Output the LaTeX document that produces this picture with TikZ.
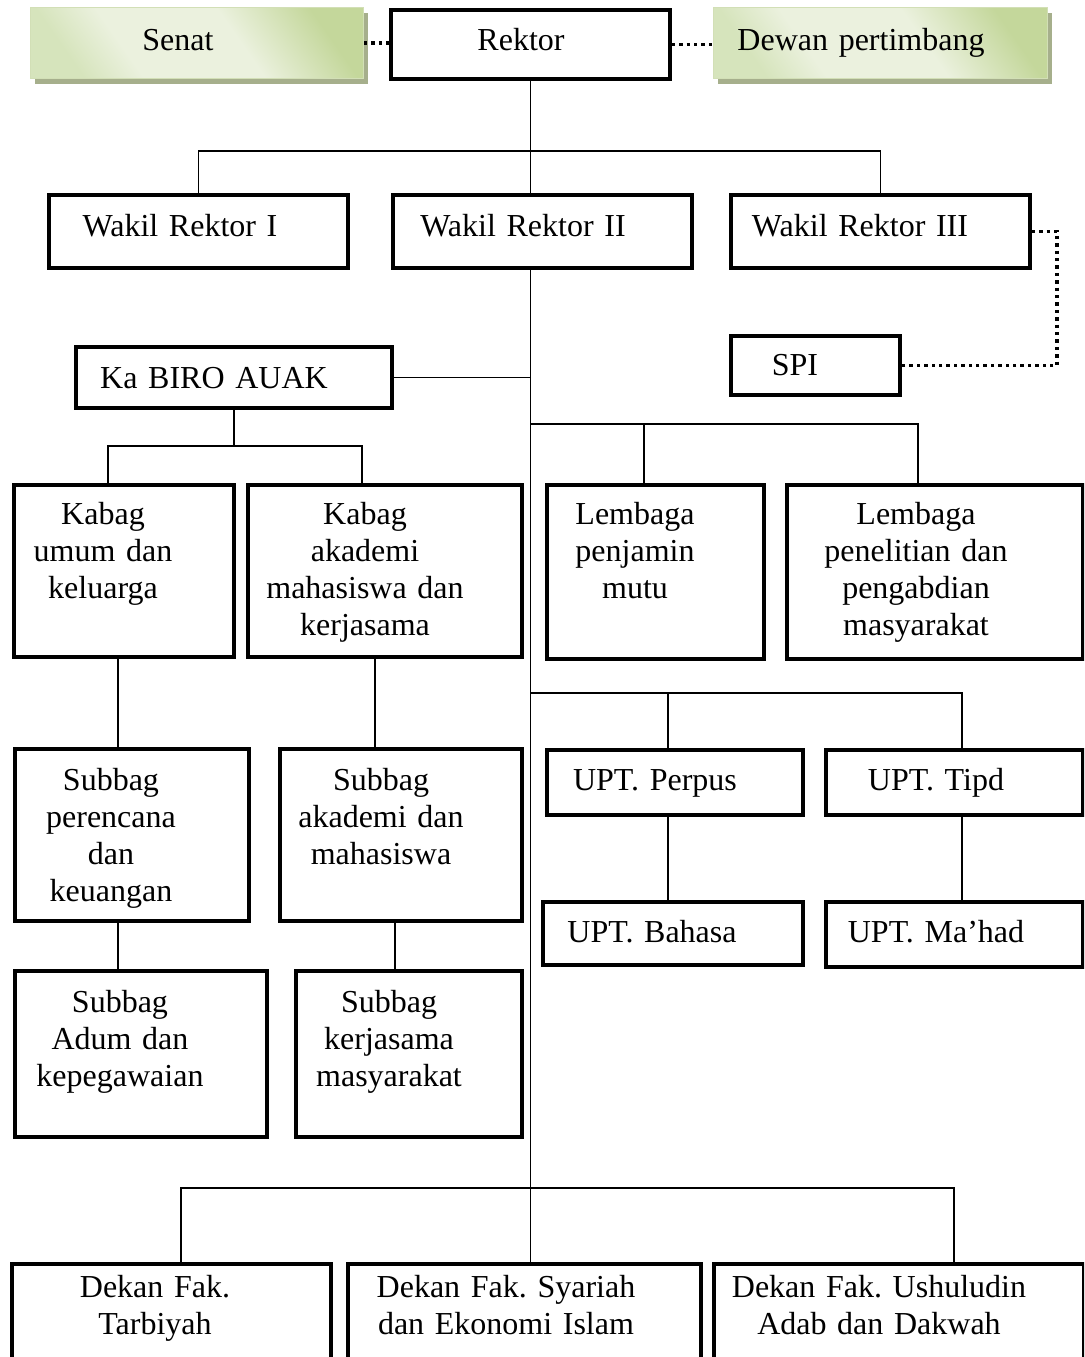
\documentclass[tikz,border=0pt]{standalone}
\usepackage{fontspec}
\setmainfont{Liberation Serif}
\usetikzlibrary{shadows}

\definecolor{gdark}{HTML}{C4D79B}
\definecolor{gmid}{HTML}{D6E4BC}
\definecolor{glight}{HTML}{EBF1DE}
\definecolor{gedge}{HTML}{D2DFB6}
\definecolor{gshadow}{HTML}{A6AF8C}

% soft green fill of the two advisory boxes
\pgfdeclarehorizontalshading{greenfill}{100bp}{%
  color(0bp)=(gmid); color(25bp)=(gmid); color(36bp)=(glight);
  color(58bp)=(glight); color(75bp)=(gdark); color(100bp)=(gdark)}

\tikzset{
  orgbox/.style={draw=black, line width=3.8pt, fill=white, inner sep=0pt},
  greenbox/.style={draw=gedge, line width=1pt, shading=greenfill, shading angle=35,
    inner sep=0pt,
    drop shadow={shadow xshift=4pt, shadow yshift=-5pt, fill=gshadow, opacity=1}},
  lbl/.style={anchor=base, text width=420pt, align=center, inner sep=0pt,
    font=\fontsize{32}{37}\selectfont\frenchspacing},
  conn/.style={line width=1.6pt, line cap=rect},
  dotline/.style={line width=3.4pt, dash pattern=on 3.4pt off 4pt},
}

% \orgnode{name}{x1}{y1}{x2}{y2}{style}: empty box from top-left to bottom-right
\newcommand\orgnode[6]{%
  \pgfmathsetmacro\orgW{#4-#2}%
  \pgfmathsetmacro\orgH{#5-#3}%
  \node[#6, minimum width=\orgW pt, minimum height=\orgH pt, anchor=north west]
    (#1) at (#2,#3) {};}
% \orgtext{name}{x}{first baseline}{text}
\newcommand\orgtext[4]{\node[lbl] (#1) at (#2,#3) {#4};}

\begin{document}
\begin{tikzpicture}[x=1pt, y=-1pt]
\clip (0,0) rectangle (1084,1357);
\fill[white] (0,0) rectangle (1084,1357);

% ---- top row ----
\orgnode{senat}{30}{7}{363}{78}{greenbox}
\orgnode{dewan}{713}{7}{1047}{78}{greenbox}
\orgnode{rektor}{389}{8}{668}{77}{orgbox}
\orgtext{senat-t}{178}{50}{Senat}
\orgtext{rektor-t}{521}{50}{Rektor}
\orgtext{dewan-t}{861}{50}{Dewan pertimbang}

% ---- vice rectors ----
\orgnode{wr1}{47}{193}{346}{266}{orgbox}
\orgnode{wr2}{391}{193}{690}{266}{orgbox}
\orgnode{wr3}{729}{193}{1028}{266}{orgbox}
\orgtext{wr1-t}{180}{236}{Wakil Rektor I}
\orgtext{wr2-t}{523}{236}{Wakil Rektor II}
\orgtext{wr3-t}{860}{236}{Wakil Rektor III}

\orgnode{spi}{729}{334}{898}{393}{orgbox}
\orgtext{spi-t}{795}{375}{SPI}

% ---- bureau branch ----
\orgnode{biro}{74}{345}{390}{406}{orgbox}
\orgtext{biro-t}{214}{388}{Ka BIRO AUAK}

\orgnode{kbu}{12}{483}{232}{655}{orgbox}
\orgnode{kba}{246}{483}{520}{655}{orgbox}
\orgtext{kbu-t}{103}{524}{Kabag\\umum dan\\keluarga}
\orgtext{kba-t}{365}{524}{Kabag\\akademi\\mahasiswa dan\\kerjasama}

\orgnode{spk}{13}{747}{247}{919}{orgbox}
\orgnode{sba}{278}{747}{520}{919}{orgbox}
\orgtext{spk-t}{111}{790}{Subbag\\perencana\\dan\\keuangan}
\orgtext{sba-t}{381}{790}{Subbag\\akademi dan\\mahasiswa}

\orgnode{adum}{13}{969}{265}{1135}{orgbox}
\orgnode{skm}{294}{969}{520}{1135}{orgbox}
\orgtext{adum-t}{120}{1012}{Subbag\\Adum dan\\kepegawaian}
\orgtext{skm-t}{389}{1012}{Subbag\\kerjasama\\masyarakat}

% ---- institutes ----
\orgnode{lpm}{545}{483}{762}{657}{orgbox}
\orgnode{lpp}{785}{483}{1081}{657}{orgbox}
\orgtext{lpm-t}{635}{524}{Lembaga\\penjamin\\mutu}
\orgtext{lpp-t}{916}{524}{Lembaga\\penelitian dan\\pengabdian\\masyarakat}

% ---- technical units ----
\orgnode{perpus}{545}{748}{801}{813}{orgbox}
\orgnode{tipd}{824}{748}{1081}{813}{orgbox}
\orgnode{bahasa}{541}{900}{801}{963}{orgbox}
\orgnode{mahad}{824}{900}{1081}{965}{orgbox}
\orgtext{perpus-t}{655}{790}{UPT. Perpus}
\orgtext{tipd-t}{936}{790}{UPT. Tipd}
\orgtext{bahasa-t}{652}{942}{UPT. Bahasa}
\orgtext{mahad-t}{936}{942}{UPT. Ma’had}

% ---- faculties ----
\orgnode{dk1}{10}{1262}{329}{1420}{orgbox}
\orgnode{dk2}{346}{1262}{699}{1420}{orgbox}
\orgnode{dk3}{712}{1262}{1082}{1420}{orgbox}
\orgtext{dk1-t}{155}{1297}{Dekan Fak.\\Tarbiyah}
\orgtext{dk2-t}{506}{1297}{Dekan Fak. Syariah\\dan Ekonomi Islam}
\orgtext{dk3-t}{879}{1297}{Dekan Fak. Ushuludin\\Adab dan Dakwah}

% ---- junction points ----
\coordinate (busW) at (0,151);
\coordinate (kbuIn) at (108,446);
\coordinate (kbaIn) at (362,446);
\coordinate (lpmIn) at (644,424);
\coordinate (lppIn) at (918,424);
\coordinate (perIn) at (668,693);
\coordinate (tipIn) at (962,693);
\coordinate (colA) at (118,0);
\coordinate (colB) at (375,0);
\coordinate (colC) at (395,0);
\coordinate (dk1In) at (181,1188);
\coordinate (dk3In) at (954,1188);
\coordinate (spiBend) at (1057,0);

% ---- connectors ----
\draw[conn] (rektor.south) -- (rektor.south |- busW);
\draw[conn] (wr1.north) |- (rektor.south |- busW) -| (wr3.north);
\draw[conn] (rektor.south |- busW) -- (rektor.south |- wr2.north);
\draw[conn] (rektor.south |- wr2.south) -- (rektor.south |- dk1In);

\draw[conn] (biro.east) -- (biro.east -| rektor.south);
\draw[conn] (biro.south) -- (biro.south |- kbuIn);
\draw[conn] (kbuIn |- kbu.north) -- (kbuIn) -- (kbaIn) -- (kbaIn |- kba.north);

\draw[conn] (rektor.south |- lpmIn) -- (lppIn) -- (lppIn |- lpp.north);
\draw[conn] (lpmIn) -- (lpmIn |- lpm.north);

\draw[conn] (rektor.south |- perIn) -- (tipIn) -- (tipIn |- tipd.north);
\draw[conn] (perIn) -- (perIn |- perpus.north);
\draw[conn] (perIn |- perpus.south) -- (perIn |- bahasa.north);
\draw[conn] (tipIn |- tipd.south) -- (tipIn |- mahad.north);

\draw[conn] (colA |- kbu.south) -- (colA |- spk.north);
\draw[conn] (colA |- spk.south) -- (colA |- adum.north);
\draw[conn] (colB |- kba.south) -- (colB |- sba.north);
\draw[conn] (colC |- sba.south) -- (colC |- skm.north);

\draw[conn] (dk1In |- dk1.north) -- (dk1In) -- (dk3In) -- (dk3In |- dk3.north);
\draw[conn] (rektor.south |- dk1In) -- (rektor.south |- dk2.north);

% ---- advisory and oversight links ----
\draw[dotline] (senat.east) -- (senat.east -| rektor.west);
\draw[dotline] (rektor.east) -- (rektor.east -| dewan.west);
\draw[dotline] (wr3.east) -| (spiBend |- spi.east) -- (spi.east);
\end{tikzpicture}
\end{document}
